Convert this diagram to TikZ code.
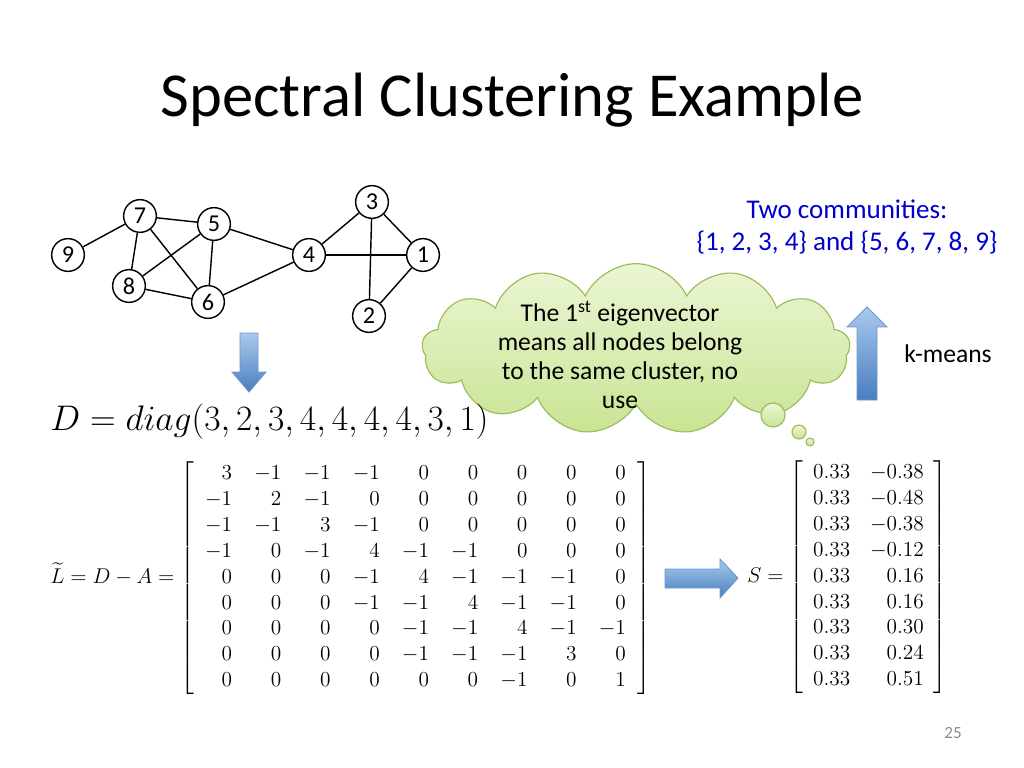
\RequirePackage{fix-cm}
\documentclass[tikz,border=0pt]{standalone}
\usepackage{amsmath}
\usepackage{fontspec}
\setmainfont{Carlito}
\usepackage{tikz}
\usetikzlibrary{shapes.symbols}
\definecolor{comm}{HTML}{0000CC}
\definecolor{arrowtop}{HTML}{A9C9EE}
\definecolor{arrowbot}{HTML}{4A7EBF}
\definecolor{arrowline}{HTML}{6B96CC}
\definecolor{cloudtop}{HTML}{EBF6D4}
\definecolor{cloudbot}{HTML}{C9E494}
\definecolor{cloudline}{HTML}{9BBB59}
\definecolor{pagenum}{HTML}{8C8C8C}

\tikzset{
  vertex/.style={circle,draw,line width=1pt,minimum size=23pt,inner sep=0pt,
    font=\fontsize{17}{20}\selectfont},
  edge/.style={line width=1pt},
  blockarrow/.style={draw=arrowline,line width=0.6pt,top color=arrowtop,bottom color=arrowbot},
  thought/.style={draw=cloudline,line width=0.8pt,top color=cloudtop,bottom color=cloudbot},
}

\begin{document}
\begin{tikzpicture}[x=0.703125pt,y=-0.703125pt]
      \useasboundingbox (0,0) rectangle (1024,768);

      \node (title) at (512,100) {\fontsize{44}{53}\selectfont Spectral Clustering Example};

      % the graph
      \path
      (423,255) node[vertex](v1) {1}
      (369,316) node[vertex](v2) {2}
      (372,202) node[vertex](v3) {3}
      (309,255) node[vertex](v4) {4}
      (214,224) node[vertex](v5) {5}
      (208,302) node[vertex](v6) {6}
      (140,216) node[vertex](v7) {7}
      (129,286) node[vertex](v8) {8}
      (68,255) node[vertex](v9) {9}
      ;

      \draw[edge] (v9) -- (v7);
      \draw[edge] (v7) -- (v5);
      \draw[edge] (v7) -- (v8);
      \draw[edge] (v7) -- (v6);
      \draw[edge] (v5) -- (v8);
      \draw[edge] (v5) -- (v6);
      \draw[edge] (v5) -- (v4);
      \draw[edge] (v8) -- (v6);
      \draw[edge] (v6) -- (v4);
      \draw[edge] (v4) -- (v3);
      \draw[edge] (v4) -- (v1);
      \draw[edge] (v3) -- (v1);
      \draw[edge] (v3) -- (v2);
      \draw[edge] (v1) -- (v2);

      % block arrows
      \path[blockarrow] (240,333) -- (258,333) -- (258,372) -- (266,372) -- (249,392)
        -- (232,372) -- (240,372) -- cycle;
      \path[blockarrow] (665,569) -- (720,569) -- (720,559) -- (738,578) -- (720,598)
        -- (720,588) -- (665,588) -- cycle;
      \path[blockarrow] (857,400) -- (857,327) -- (847,327) -- (867,307) -- (887,327)
        -- (877,327) -- (877,400) -- cycle;

      % thought cloud
      \node[cloud,thought,cloud puffs=13,cloud puff arc=130,cloud ignores aspect,
        inner sep=0pt,minimum width=301pt,minimum height=120pt] (note) at (636,349) {};
      \node[align=center,font=\fontsize{18}{20.4}\selectfont] (notetext) at (620,355)
        {The 1\textsuperscript{st} eigenvector\\ means all nodes belong\\
         to the same cluster, no\\ use};
      \node[circle,thought,minimum size=16.9pt,inner sep=0pt] (b1) at (773,415) {};
      \node[circle,thought,minimum size=9.8pt,inner sep=0pt] (b2) at (799,432) {};
      \node[circle,thought,minimum size=5.6pt,inner sep=0pt] (b3) at (810,442) {};

      \node[text=comm,align=center,font=\fontsize{19}{23.2}\selectfont] (comm) at (847,227)
        {Two communities:\\ \{1, 2, 3, 4\} and \{5, 6, 7, 8, 9\}};
      \node[font=\fontsize{18}{22}\selectfont] (kmeans) at (948,354) {k-means};

      % formulas
      \node[anchor=base west,inner sep=0pt,font=\fontsize{25}{30}\selectfont] (deg) at (50,430)
        {$D = diag(3,2,3,4,4,4,4,3,1)$};
      \node[anchor=west,inner sep=0pt,font=\fontsize{15}{18.2}\selectfont] (lap) at (50,578)
        {$\setlength{\arraycolsep}{7.8pt}\widetilde{L} = D - A = \left[\begin{array}{*{9}{r}}
          3 & -1 & -1 & -1 & 0 & 0 & 0 & 0 & 0\\
          -1 & 2 & -1 & 0 & 0 & 0 & 0 & 0 & 0\\
          -1 & -1 & 3 & -1 & 0 & 0 & 0 & 0 & 0\\
          -1 & 0 & -1 & 4 & -1 & -1 & 0 & 0 & 0\\
          0 & 0 & 0 & -1 & 4 & -1 & -1 & -1 & 0\\
          0 & 0 & 0 & -1 & -1 & 4 & -1 & -1 & 0\\
          0 & 0 & 0 & 0 & -1 & -1 & 4 & -1 & -1\\
          0 & 0 & 0 & 0 & -1 & -1 & -1 & 3 & 0\\
          0 & 0 & 0 & 0 & 0 & 0 & -1 & 0 & 1
        \end{array}\right]$};
      \node[anchor=west,inner sep=0pt,font=\fontsize{15}{18.2}\selectfont] (evec) at (747,577)
        {$\setlength{\arraycolsep}{7pt}S = \left[\begin{array}{rr}
          0.33 & -0.38\\ 0.33 & -0.48\\ 0.33 & -0.38\\ 0.33 & -0.12\\ 0.33 & 0.16\\
          0.33 & 0.16\\ 0.33 & 0.30\\ 0.33 & 0.24\\ 0.33 & 0.51
        \end{array}\right]$};

      \node[text=pagenum,font=\fontsize{12}{14}\selectfont] (page) at (953,733) {25};
    \end{tikzpicture}
\end{document}
